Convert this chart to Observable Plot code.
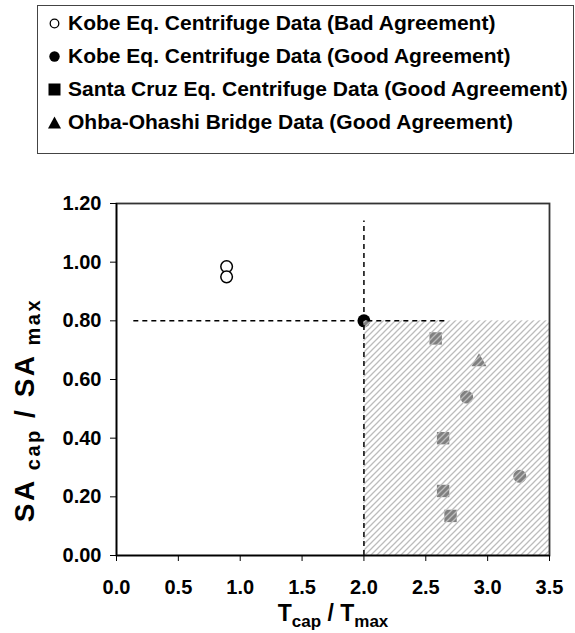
<!DOCTYPE html>
<html><head><meta charset="utf-8">
<script src="https://cdn.jsdelivr.net/npm/d3@7"></script>
<script src="https://cdn.jsdelivr.net/npm/@observablehq/plot@0.6"></script>
<style>
html,body{margin:0;padding:0;background:#fff;}
body{width:575px;height:633px;overflow:hidden;position:relative;font-family:"Liberation Sans",Arial,sans-serif;font-weight:bold;}
#legend{position:absolute;left:37px;top:5px;width:537px;height:149px;border:1px solid #444;box-sizing:border-box;}
.row{position:absolute;left:9px;height:24px;display:flex;align-items:center;font-size:21px;color:#000;white-space:nowrap;}
.row svg{width:15px;height:15px;margin-right:6px;flex:none;}
#chart{position:absolute;left:0;top:170px;}
</style></head>
<body>
<div id="legend"></div>
<div id="chart"></div>
<script>
// ---- data ----
const legendLabels = [
  "Kobe Eq. Centrifuge Data (Bad Agreement)",
  "Kobe Eq. Centrifuge Data (Good Agreement)",
  "Santa Cruz Eq. Centrifuge Data (Good Agreement)",
  "Ohba-Ohashi Bridge Data (Good Agreement)"
];
const kobeBadX = [0.89, 0.89];
const kobeBadY = [0.985, 0.95];
const kobeGoodX = [2.0, 2.83, 3.26];
const kobeGoodY = [0.80, 0.54, 0.27];
const santaCruzX = [2.58, 2.64, 2.64, 2.70];
const santaCruzY = [0.74, 0.40, 0.22, 0.135];
const ohbaX = [2.93];
const ohbaY = [0.66];
const xTicks = [0, 0.5, 1.0, 1.5, 2.0, 2.5, 3.0, 3.5];
const yTicks = [0, 0.2, 0.4, 0.6, 0.8, 1.0, 1.2];
const hGuide = [{x1: 0.14, x2: 2.68, y: 0.8}];
const vGuide = [{x: 2.0, y1: 0, y2: 1.14}];
const zone = [{x1: 2.0, x2: 3.5, y1: 0, y2: 0.8}];

const pts = (xs, ys) => xs.map((x, i) => ({x, y: ys[i]}));

// ---- legend ----
const legendSymbols = [
  '<svg viewBox="0 0 15 15"><circle cx="7.5" cy="7.5" r="4.3" fill="#fff" stroke="#000" stroke-width="1.3"/></svg>',
  '<svg viewBox="0 0 15 15"><circle cx="7.5" cy="7.5" r="5.2" fill="#000"/></svg>',
  '<svg viewBox="0 0 15 15"><rect x="1.5" y="1.5" width="12" height="12" fill="#000"/></svg>',
  '<svg viewBox="0 0 15 15"><path d="M7.5,1.5L14,13.5H1Z" fill="#000"/></svg>'
];
const rowCenters = [17, 50, 83, 116];
const legend = document.getElementById("legend");
legendLabels.forEach((t, i) => {
  const d = document.createElement("div");
  d.className = "row";
  d.style.top = (rowCenters[i] - 12) + "px";
  d.innerHTML = legendSymbols[i] + "<span>" + t + "</span>";
  legend.appendChild(d);
});

// ---- chart ----
const font = "'Liberation Sans', Arial, sans-serif";
const chart = Plot.plot({
  width: 575, height: 463,
  marginLeft: 116, marginRight: 26, marginTop: 33, marginBottom: 78,
  x: {domain: [0, 3.5]},
  y: {domain: [0, 1.2]},
  style: {fontFamily: font, fontWeight: "bold", fontSize: "20px", color: "#000", background: "#fff", overflow: "visible"},
  marks: [
    Plot.dot(pts(kobeBadX, kobeBadY), {x: "x", y: "y", r: 5.8, stroke: "#000", strokeWidth: 1.5, fill: "#fff"}),
    Plot.dot(pts(kobeGoodX, kobeGoodY), {x: "x", y: "y", r: 6.5, fill: "#000"}),
    Plot.dot(pts(santaCruzX, santaCruzY), {x: "x", y: "y", symbol: "square", r: 7, fill: "#000"}),
    Plot.dot(pts(ohbaX, ohbaY), {x: "x", y: "y", symbol: "triangle", r: 5.6, fill: "#000"}),
    Plot.rect(zone, {x1: "x1", x2: "x2", y1: "y1", y2: "y2", fill: "#fff", fillOpacity: 0.5}),
    Plot.rect(zone, {x1: "x1", x2: "x2", y1: "y1", y2: "y2", fill: "url(#hatch)"}),
    Plot.ruleY(hGuide, {x1: "x1", x2: "x2", y: "y", stroke: "#000", strokeWidth: 1.5, strokeDasharray: "5,4"}),
    Plot.ruleX(vGuide, {x: "x", y1: "y1", y2: "y2", stroke: "#000", strokeWidth: 1.5, strokeDasharray: "5,4"}),
    Plot.frame({stroke: "#333", strokeWidth: 1.8}),
    Plot.ruleX([0], {stroke: "#000", strokeWidth: 1.5}),
    Plot.ruleY([0], {stroke: "#000", strokeWidth: 1.5}),
    Plot.axisX({ticks: xTicks, tickFormat: d3.format(".1f"), tickSize: 6, tickPadding: 18, label: null, fontSize: 20, fontWeight: "bold", stroke: "#000"}),
    Plot.axisY({ticks: yTicks, tickFormat: d3.format(".2f"), tickSize: 6, tickPadding: 9, label: null, fontSize: 20, fontWeight: "bold", stroke: "#000"})
  ]
});
document.getElementById("chart").appendChild(chart);

// hatch pattern
const svg = d3.select(chart);
const defs = svg.insert("defs", ":first-child");
const pat = defs.append("pattern").attr("id", "hatch").attr("patternUnits", "userSpaceOnUse")
  .attr("width", 6).attr("height", 6);
pat.append("path").attr("d", "M-1,1 l2,-2 M0,6 l6,-6 M5,7 l2,-2")
  .attr("stroke", "#bcbcbc").attr("stroke-width", 1.3);

// axis titles with subscripts
const xt = svg.append("text").attr("x", 333).attr("y", 451).attr("text-anchor", "middle")
  .attr("font-family", font).attr("font-weight", "bold").attr("font-size", 23).attr("fill", "#000");
xt.append("tspan").text("T");
xt.append("tspan").attr("font-size", 17).attr("dy", 6).text("cap");
xt.append("tspan").attr("dy", -6).text(" / T");
xt.append("tspan").attr("font-size", 17).attr("dy", 6).text("max");

const yt = svg.append("text").attr("transform", "translate(34,240) rotate(-90)").attr("text-anchor", "middle")
  .attr("font-family", font).attr("font-weight", "bold").attr("font-size", 28).attr("fill", "#000")
  .attr("letter-spacing", 2.5);
yt.append("tspan").text("SA");
yt.append("tspan").attr("font-size", 20).attr("dy", 6).text(" cap");
yt.append("tspan").attr("dy", -6).text(" / SA");
yt.append("tspan").attr("font-size", 20).attr("dy", 6).text(" max");
</script>
</body></html>
